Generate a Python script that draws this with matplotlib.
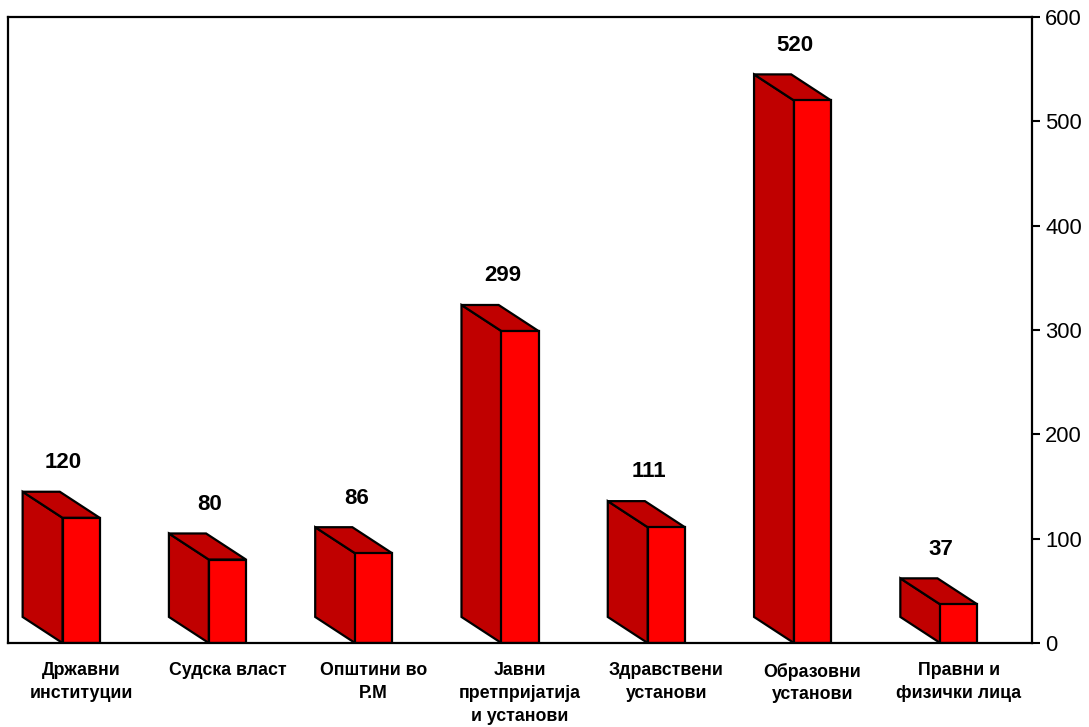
import numpy as np
import matplotlib.pyplot as plt
from matplotlib.patches import Polygon

# data
categories = ['Државни\nинституции', 'Судска власт', 'Општини во\nР.М',
              'Јавни\nпретпријатија\nи установи', 'Здравствени\nустанови',
              'Образовни\nустанови', 'Правни и\nфизички лица']
values = [120, 80, 86, 299, 111, 520, 37]
y_ticks = [0, 100, 200, 300, 400, 500, 600]

plt.rcParams['font.family'] = ['Liberation Sans', 'DejaVu Sans']

front_col = '#FF0000'
side_col = '#C00000'
half_w = 0.127      # half width of the front face, in category units
dx, dy = -0.273, 25  # depth offset of the back face (x in categories, y in data)

fig = plt.figure(figsize=(10.89, 7.27), dpi=100)
ax = fig.add_axes([0.00735, 0.1155, 0.9403, 0.8611])

x = np.arange(len(values))
for xi, v in zip(x, values):
    x0, x1 = xi - half_w, xi + half_w
    side = Polygon([(x0, 0), (x0 + dx, dy), (x0 + dx, v + dy), (x0, v)],
                   closed=True, facecolor=side_col, edgecolor='k', lw=1.6, zorder=2)
    top = Polygon([(x0, v), (x0 + dx, v + dy), (x1 + dx, v + dy), (x1, v)],
                  closed=True, facecolor=side_col, edgecolor='k', lw=1.6, zorder=2)
    ax.add_patch(side)
    ax.add_patch(top)
    ax.text(xi - 0.12, v + dy + 28, str(v), ha='center', va='center',
            fontsize=16, fontweight='bold')
ax.bar(x, values, width=2 * half_w, color=front_col, edgecolor='k', lw=1.6, zorder=3)

ax.set_xlim(-0.5, len(values) - 0.5)
ax.set_ylim(0, 600)
ax.set_xticks(x)
ax.set_xticklabels(categories, fontsize=12.8, fontweight='bold', linespacing=1.45)
ax.tick_params(axis='x', length=0, pad=14)
ax.yaxis.tick_right()
ax.set_yticks(y_ticks)
ax.tick_params(axis='y', direction='out', length=6, width=1.5, labelsize=15.8, pad=3.5)
for s in ax.spines.values():
    s.set_linewidth(1.6)
    s.set_zorder(4)

fig.savefig('out.png', dpi=100)
